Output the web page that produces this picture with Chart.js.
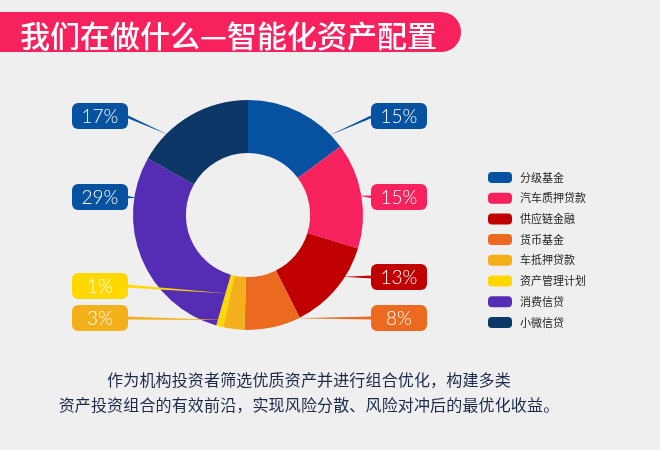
<!DOCTYPE html>
<html>
<head>
<meta charset="utf-8">
<script src="https://cdn.jsdelivr.net/npm/chart.js@4.4.0/dist/chart.umd.min.js"></script>
<style>
  html, body { margin: 0; padding: 0; background: #efefef; }
  #wrap { position: relative; width: 660px; height: 450px; overflow: hidden; }
  #banner {
    position: absolute; left: 0; top: 12px; width: 461px; height: 40px;
    background: #f7215d; border-radius: 0 20px 20px 0;
  }
  #banner h1 {
    margin: 0; position: absolute; left: 20px; top: 0; line-height: 40px;
    font: 500 30px "Noto Sans CJK SC", sans-serif; color: #fff; white-space: nowrap;
  }
  #note {
    position: absolute; left: 0; width: 618px; top: 367px; text-align: center;
    font: 16px/25px "Noto Sans CJK SC", sans-serif; color: #1b2a4a; letter-spacing: 0.15px;
  }
  canvas { position: absolute; left: 0; top: 0; }
</style>
</head>
<body>
<div id="wrap">
  <canvas id="chart" width="660" height="450"></canvas>
  <div id="banner"><h1>我们在做什么—智能化资产配置</h1></div>
  <div id="note">作为机构投资者筛选优质资产并进行组合优化，构建多类<br>资产投资组合的有效前沿，实现风险分散、风险对冲后的最优化收益。</div>
</div>
<script>
// data
const categories = ['分级基金', '汽车质押贷款', '供应链金融', '货币基金', '车抵押贷款', '资产管理计划', '消费信贷', '小微信贷'];
const shares = [15, 15, 13, 8, 3, 1, 29, 17];
const sliceColors = ['#0651a0', '#f7215d', '#c00000', '#ec6a1f', '#f4b01a', '#ffd800', '#552db4', '#0d3767'];
const labelColors = ['#0651a0', '#f7215d', '#c00000', '#ec6a1f', '#f4b01a', '#ffd800', '#0651a0', '#0651a0'];

// where each percentage box sits (side, top y), where along the slice its line ends and how deep
const labelBoxes = [
    { side: 'right', y: 103, at: 0.85, depth: 2 },
    { side: 'right', y: 184, at: 0.5, depth: 2 },
    { side: 'right', y: 264, at: 0.35, depth: 2 },
    { side: 'right', y: 305, at: 0.1, depth: 2 },
    { side: 'left', y: 305, at: 0.9, depth: 8 },
    { side: 'left', y: 273, at: 0.5, depth: 34 },
    { side: 'left', y: 184, at: 0.8, depth: 2 },
    { side: 'left', y: 103, at: 0.26, depth: 2 }
];

function roundRect(ctx, x, y, w, h, r) {
    ctx.beginPath();
    ctx.moveTo(x + r, y);
    ctx.arcTo(x + w, y, x + w, y + h, r);
    ctx.arcTo(x + w, y + h, x, y + h, r);
    ctx.arcTo(x, y + h, x, y, r);
    ctx.arcTo(x, y, x + w, y, r);
    ctx.closePath();
}

const calloutPlugin = {
    id: 'callouts',
    afterDatasetsDraw(chart) {
        const ctx = chart.ctx;
        const arcs = chart.getDatasetMeta(0).data;
        ctx.save();
        arcs.forEach((arc, i) => {
            const box = labelBoxes[i];
            const w = 56, h = 26;
            const bx = box.side === 'left' ? 72 : 371;
            const edgeX = box.side === 'left' ? bx + w - 2 : bx + 2;
            const cy = box.y + h / 2;
            const a = arc.startAngle + (arc.endAngle - arc.startAngle) * box.at;
            const r = arc.outerRadius - box.depth;
            const ax = arc.x + Math.cos(a) * r;
            const ay = arc.y + Math.sin(a) * r;

            // tapered leader line
            ctx.fillStyle = labelColors[i];
            ctx.beginPath();
            ctx.moveTo(edgeX, cy - 1.6);
            ctx.lineTo(ax, ay);
            ctx.lineTo(edgeX, cy + 1.6);
            ctx.closePath();
            ctx.fill();

            roundRect(ctx, bx, box.y, w, h, 6);
            ctx.fill();

            ctx.fillStyle = '#fff';
            ctx.font = '300 19px Lato, "Open Sans", sans-serif';
            ctx.textAlign = 'center';
            ctx.textBaseline = 'middle';
            ctx.fillText(shares[i] + '%', bx + w / 2, cy + 1);
        });

        // legend
        ctx.textAlign = 'left';
        ctx.textBaseline = 'middle';
        ctx.font = '11px "Noto Sans CJK SC", sans-serif';
        categories.forEach((name, i) => {
            const y = 177.5 + i * 20.7;
            ctx.fillStyle = sliceColors[i];
            roundRect(ctx, 488, y - 5.5, 24, 11, 4);
            ctx.fill();
            ctx.fillStyle = '#222';
            ctx.fillText(name, 520, y);
        });
        ctx.restore();
    }
};

new Chart(document.getElementById('chart'), {
    type: 'doughnut',
    data: {
        labels: categories,
        datasets: [{
            data: shares,
            backgroundColor: sliceColors,
            borderWidth: 0
        }]
    },
    options: {
        responsive: false,
        animation: false,
        cutout: '54%',
        layout: { padding: { left: 133, top: 100, right: 297, bottom: 120 } },
        plugins: {
            legend: { display: false },
            tooltip: { enabled: false }
        }
    },
    plugins: [calloutPlugin]
});
</script>
</body>
</html>
